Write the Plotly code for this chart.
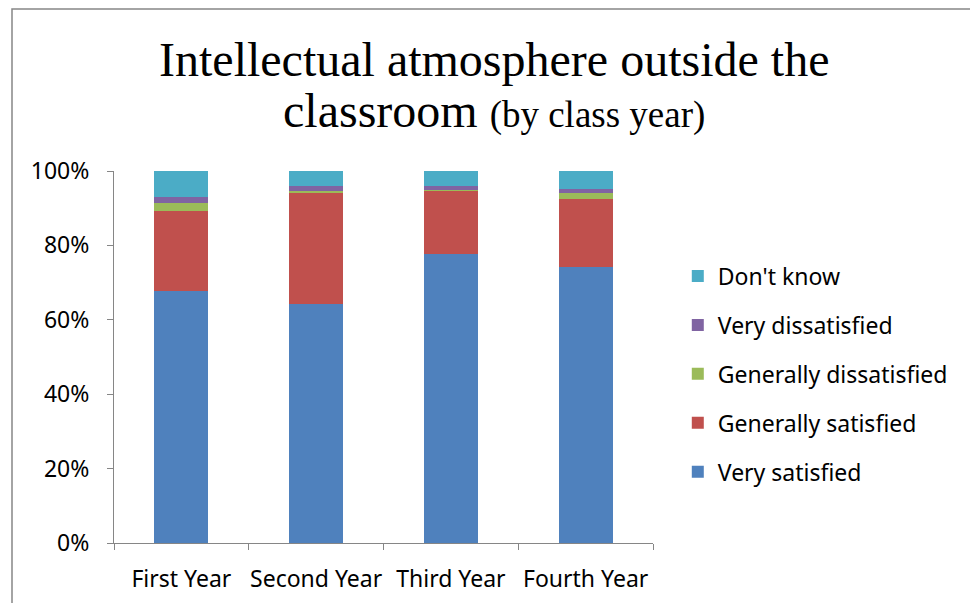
import plotly.graph_objects as go

# Data (share of respondents)
years = ["First Year", "Second Year", "Third Year", "Fourth Year"]
very_satisfied = [0.677, 0.642, 0.777, 0.741]
generally_satisfied = [0.216, 0.300, 0.170, 0.184]
generally_dissatisfied = [0.022, 0.005, 0.002, 0.017]
very_dissatisfied = [0.014, 0.012, 0.010, 0.010]
dont_know = [0.071, 0.041, 0.041, 0.048]

series = [
    ("Very satisfied", very_satisfied, "#4F81BD"),
    ("Generally satisfied", generally_satisfied, "#C0504D"),
    ("Generally dissatisfied", generally_dissatisfied, "#9BBB59"),
    ("Very dissatisfied", very_dissatisfied, "#8064A2"),
    ("Don't know", dont_know, "#4BACC6"),
]

fig = go.Figure()
for i, (name, vals, color) in enumerate(series):
    fig.add_trace(go.Bar(
        x=years,
        y=vals,
        name=name,
        legendgroup=str(i),
        legendrank=len(series) - i,
        marker=dict(color=color, line=dict(width=0)),
    ))

axis_grey = "#868686"

# page has an 8px body margin, so the figure is 8px smaller than the window
fig.update_layout(
    barmode="stack",
    bargap=0.6,
    width=970,
    height=595,
    margin=dict(l=106, r=325, t=163, b=60),
    plot_bgcolor="white",
    paper_bgcolor="white",
    font=dict(family="Noto Sans", size=23, color="black"),
    showlegend=True,
    legend=dict(
        x=1.046, xanchor="left",
        y=0.454, yanchor="middle",
        traceorder="grouped",
        tracegroupgap=16,
        font=dict(family="Noto Sans", size=23),
        bgcolor="rgba(0,0,0,0)",
    ),
    xaxis=dict(
        showline=True, linecolor=axis_grey, linewidth=1,
        ticks="outside", tickson="boundaries", ticklen=6, tickcolor=axis_grey,
        tickangle=0, ticklabelstandoff=15, automargin=False,
        tickfont=dict(size=23),
        showgrid=False,
    ),
    yaxis=dict(
        range=[0, 1],
        tickvals=[0, 0.2, 0.4, 0.6, 0.8, 1.0],
        tickformat=".0%",
        showline=True, linecolor=axis_grey, linewidth=1,
        ticks="outside", ticklen=6, tickcolor=axis_grey,
        ticklabelstandoff=13, automargin=False,
        showgrid=False, zeroline=False,
    ),
)

# Two-line title
fig.add_annotation(text="Intellectual atmosphere outside the",
                   xref="paper", yref="paper", x=0.705, y=1.301,
                   xanchor="center", yanchor="middle", showarrow=False,
                   font=dict(family="Liberation Serif", size=48, color="black"))
fig.add_annotation(text="classroom <span style='font-size:37px'>(by class year)</span>",
                   xref="paper", yref="paper", x=0.705, y=1.162,
                   xanchor="center", yanchor="middle", showarrow=False,
                   font=dict(family="Liberation Serif", size=48, color="black"))

# Outer chart border (partly cropped in the original)
fig.add_shape(type="rect", xref="paper", yref="paper",
              x0=(12 - 114) / 539, x1=(974 - 114) / 539,
              y0=-0.5, y1=(543 - 9) / 372,
              line=dict(color=axis_grey, width=1.5), layer="below")

fig.write_html("out.html")
